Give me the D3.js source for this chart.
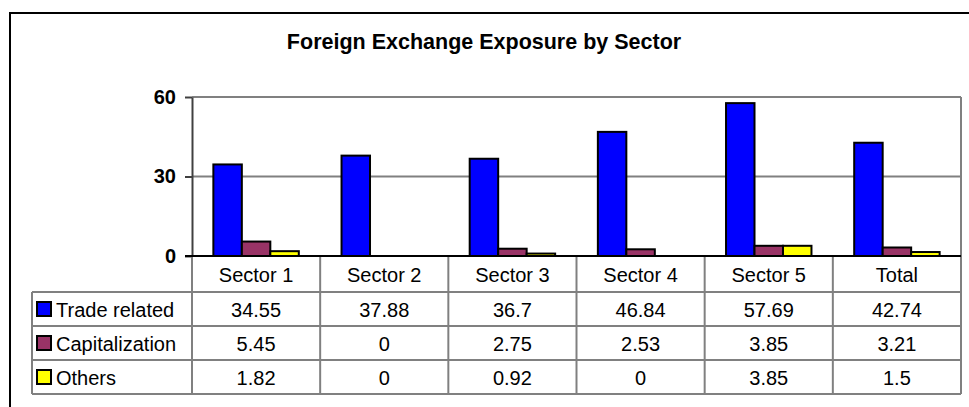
<!DOCTYPE html>
<html lang="en">
<head>
  <meta charset="UTF-8">
  <title>Foreign Exchange Exposure by Sector</title>
  <script src="https://cdn.jsdelivr.net/npm/d3@7"></script>
  <style>
    body { margin: 0; background: #fff; }
    text { font-family: Arial, "Liberation Sans", sans-serif; }
  </style>
</head>
<body>
  <svg width="969" height="407"></svg>
<script>
  const categories = ["Sector 1", "Sector 2", "Sector 3", "Sector 4", "Sector 5", "Total"];
  const seriesNames = ["Trade related", "Capitalization", "Others"];
  const tradeRelated = [34.55, 37.88, 36.7, 46.84, 57.69, 42.74];
  const capitalization = [5.45, 0, 2.75, 2.53, 3.85, 3.21];
  const others = [1.82, 0, 0.92, 0, 3.85, 1.5];
  const yTicks = [0, 30, 60];
  const colors = ["#0000ff", "#993366", "#ffff00"];

  const values = [tradeRelated, capitalization, others];

  const svg = d3.select("svg");
  const plotLeft = 192, plotRight = 961, plotTop = 97, plotBottom = 256;
  const headerH = 36, rowH = 34, legendLeft = 32;

  // outer frame (only top and left visible)
  svg.append("rect")
    .attr("x", 10).attr("y", 13)
    .attr("width", 1000).attr("height", 500)
    .attr("fill", "none").attr("stroke", "#000").attr("stroke-width", 2);

  svg.append("text")
    .attr("x", 484).attr("y", 49)
    .attr("text-anchor", "middle")
    .attr("font-size", "21.5px").attr("font-weight", "bold")
    .text("Foreign Exchange Exposure by Sector");

  const x0 = d3.scaleBand().domain(categories).range([plotLeft, plotRight]);
  const bw = x0.bandwidth();
  const barW = bw / 4.5;
  const x1 = d3.scaleBand().domain(seriesNames).range([barW * 0.75, barW * 3.75]);
  const y = d3.scaleLinear().domain([0, 60]).range([plotBottom, plotTop]);

  const g = svg.append("g");

  // gridlines
  g.selectAll(".grid").data(yTicks.filter(d => d > 0)).enter().append("line")
    .attr("x1", plotLeft).attr("x2", plotRight)
    .attr("y1", d => y(d)).attr("y2", d => y(d))
    .attr("stroke", "#808080").attr("stroke-width", 2);

  // plot border right
  g.append("line")
    .attr("x1", plotRight).attr("x2", plotRight).attr("y1", plotTop).attr("y2", plotBottom)
    .attr("stroke", "#808080").attr("stroke-width", 2);

  // bars
  seriesNames.forEach((s, si) => {
    g.selectAll(".bar" + si).data(values[si]).enter().append("rect")
      .attr("x", (d, i) => x0(categories[i]) + x1(s))
      .attr("width", x1.bandwidth())
      .attr("y", d => y(d))
      .attr("height", d => y(0) - y(d))
      .attr("fill", colors[si])
      .attr("stroke", d => d > 0 ? "#000" : "none")
      .attr("stroke-width", 2);
  });

  // y axis
  const yAxis = d3.axisLeft(y).tickValues(yTicks).tickSize(7).tickSizeOuter(0);
  const ya = svg.append("g").attr("transform", `translate(${plotLeft},0)`).call(yAxis);
  ya.select(".domain").attr("stroke", "#404040").attr("stroke-width", 2);
  ya.selectAll(".tick line").attr("stroke", "#404040").attr("stroke-width", 2);
  ya.selectAll(".tick text")
    .attr("x", -16)
    .attr("font-size", "20px").attr("font-weight", "bold")
    .attr("font-family", "Arial, 'Liberation Sans', sans-serif")
    .attr("fill", "#000");

  // data table
  const tableBottom = plotBottom + headerH + rowH * 3;
  const t = svg.append("g");
  const lineColor = "#808080";

  // vertical lines
  const vx = categories.map(c => x0(c)).concat([plotRight]);
  t.selectAll(".v").data(vx).enter().append("line")
    .attr("x1", d => d).attr("x2", d => d)
    .attr("y1", plotBottom).attr("y2", tableBottom)
    .attr("stroke", lineColor).attr("stroke-width", 2);
  t.append("line")
    .attr("x1", legendLeft).attr("x2", legendLeft)
    .attr("y1", plotBottom + headerH).attr("y2", tableBottom)
    .attr("stroke", lineColor).attr("stroke-width", 2);

  // horizontal lines
  const hy = [0, 1, 2, 3].map(i => plotBottom + headerH + i * rowH);
  t.selectAll(".h").data(hy).enter().append("line")
    .attr("x1", legendLeft).attr("x2", plotRight)
    .attr("y1", d => d).attr("y2", d => d)
    .attr("stroke", lineColor).attr("stroke-width", 2);

  // zero line (category axis)
  svg.append("line")
    .attr("x1", plotLeft - 7).attr("x2", plotRight)
    .attr("y1", plotBottom).attr("y2", plotBottom)
    .attr("stroke", "#000").attr("stroke-width", 2);

  // header labels
  t.selectAll(".hl").data(categories).enter().append("text")
    .attr("x", d => x0(d) + bw / 2)
    .attr("y", plotBottom + headerH / 2 + 7.5)
    .attr("text-anchor", "middle").attr("font-size", "20px")
    .text(d => d);

  // rows
  seriesNames.forEach((s, si) => {
    const cy = plotBottom + headerH + si * rowH + rowH / 2;
    t.append("rect")
      .attr("x", 37).attr("y", cy - 7)
      .attr("width", 14).attr("height", 14)
      .attr("fill", colors[si]).attr("stroke", "#000").attr("stroke-width", 2);
    t.append("text")
      .attr("x", 56).attr("y", cy + 7.5)
      .attr("font-size", "20px")
      .text(s);
    t.selectAll(".r" + si).data(values[si]).enter().append("text")
      .attr("x", (d, i) => x0(categories[i]) + bw / 2)
      .attr("y", cy + 7.5)
      .attr("text-anchor", "middle").attr("font-size", "20px")
      .text(d => d);
  });
</script>
</body>
</html>
